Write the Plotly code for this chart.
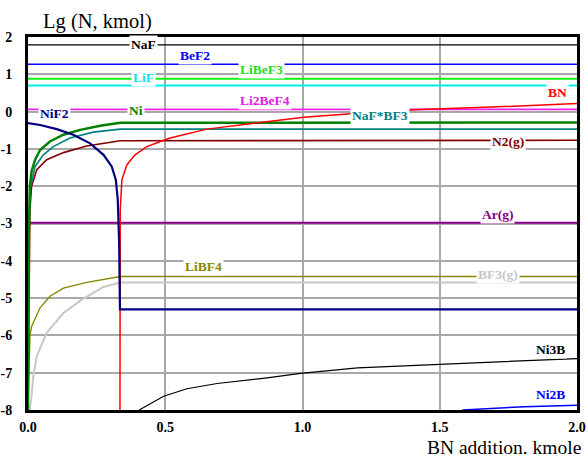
import plotly.graph_objects as go

# ---------------- data ----------------
X_END = 2.0

# constant species (Lg N)
naf = 1.79
bef2 = 1.27
libef3 = 0.88
lif = 0.70
li2bef4 = 0.06
ar_g = -2.98

# Ni (metal)
ni_x = [0.0, 0.002, 0.007, 0.013, 0.026, 0.044, 0.08, 0.129, 0.19, 0.263, 0.336, 2.0]
ni_y = [-8.0, -3.5, -2.0, -1.6, -1.29, -1.03, -0.80, -0.62, -0.49, -0.38, -0.30, -0.29]

# NaF*BF3
nafbf3_x = [0.0, 0.002, 0.007, 0.026, 0.056, 0.092, 0.153, 0.238, 0.336, 2.0]
nafbf3_y = [-8.0, -3.8, -2.1, -1.47, -1.16, -0.94, -0.71, -0.55, -0.47, -0.47]

# N2(g)
n2_x = [0.0, 0.003, 0.007, 0.013, 0.032, 0.068, 0.129, 0.214, 0.336, 2.0]
n2_y = [-8.0, -4.5, -2.63, -2.0, -1.56, -1.29, -1.10, -0.92, -0.78, -0.77]

# NiF2
nif2_x = [0.0, 0.044, 0.105, 0.165, 0.226, 0.275, 0.305, 0.32, 0.327, 0.332, 0.335, 2.0]
nif2_y = [-0.31, -0.36, -0.47, -0.62, -0.85, -1.16, -1.47, -1.83, -2.36, -3.5, -5.30, -5.30]

# BN
bn_x = [0.335, 0.336, 0.342, 0.36, 0.39, 0.433, 0.482, 0.518, 0.652, 0.859, 1.005, 1.175, 1.406, 1.686, 2.0]
bn_y = [-8.0, -2.63, -1.83, -1.43, -1.16, -0.94, -0.80, -0.71, -0.47, -0.28, -0.15, -0.06, 0.05, 0.12, 0.22]

# LiBF4
libf4_x = [0.0, 0.002, 0.004, 0.007, 0.013, 0.044, 0.08, 0.129, 0.214, 0.336, 2.0]
libf4_y = [-8.0, -7.6, -6.8, -6.02, -5.76, -5.26, -4.95, -4.73, -4.58, -4.42, -4.42]

# BF3(g)
bf3_x = [0.006, 0.013, 0.019, 0.032, 0.068, 0.129, 0.196, 0.275, 0.336, 2.0]
bf3_y = [-8.0, -7.63, -7.10, -6.56, -5.93, -5.40, -5.04, -4.70, -4.58, -4.58]

# Ni3B
ni3b_x = [0.405, 0.494, 0.579, 0.689, 0.871, 0.993, 1.2, 1.504, 1.808, 2.0]
ni3b_y = [-8.0, -7.63, -7.43, -7.29, -7.14, -7.02, -6.87, -6.78, -6.69, -6.62]

# Ni2B
ni2b_x = [1.583, 1.808, 2.0]
ni2b_y = [-8.0, -7.91, -7.87]

x_ticks = [0.0, 0.5, 1.0, 1.5, 2.0]
x_ticklabels = ["0.0", "0.5", "1.0", "1.5", "2.0"]
y_ticks = [-8, -7, -6, -5, -4, -3, -2, -1, 0, 1, 2]
y_ticklabels = [str(v) for v in y_ticks]

# ---------------- figure ----------------
SERIF = "Liberation Serif, Times New Roman, serif"
W, H = 588, 457
L, R, T, B = 28, 11, 37, 47
PW, PH = W - L - R, H - T - B

fig = go.Figure()

def line(x, y, color, width):
    fig.add_trace(go.Scatter(x=x, y=y, mode="lines", line=dict(color=color, width=width),
                             hoverinfo="skip", showlegend=False))

# constant lines
line([0, X_END], [naf, naf], "#000000", 1.3)
line([0, X_END], [bef2, bef2], "#0000ff", 1.5)
line([0, X_END], [libef3, libef3], "#10f010", 2)
line([0, X_END], [lif, lif], "#00f0f0", 2)
line([0, X_END], [li2bef4, li2bef4], "#f020f0", 1.8)
line([0, X_END], [ar_g, ar_g], "#880088", 1.8)

line(libf4_x, libf4_y, "#888800", 1.4)
line(bf3_x, bf3_y, "#c8c8c8", 2)
line(ni3b_x, ni3b_y, "#000000", 1.2)
line(ni2b_x, ni2b_y, "#0000ff", 1.5)
line(n2_x, n2_y, "#800000", 1.6)
line(nafbf3_x, nafbf3_y, "#008080", 1.6)
line(ni_x, ni_y, "#008000", 2.5)
line(bn_x, bn_y, "#ff0000", 1.5)
line(nif2_x, nif2_y, "#000080", 2.2)

# species labels (pixel centres converted to data coords)
def px2x(px):
    return (px - L) / PW * 2.0

def py2y(py):
    return 2.0 - (py - T) / PH * 10.0

labels = [
    ("NaF", 143, 44, "#000000"),
    ("BeF2", 195, 55, "#0000ee"),
    ("LiBeF3", 261, 69, "#22dd22"),
    ("LiF", 143, 77, "#11e0f0"),
    ("Li2BeF4", 265, 100, "#e020e0"),
    ("NiF2", 54, 113, "#000080"),
    ("Ni", 136, 110.5, "#008000"),
    ("BN", 557, 92.5, "#ff0000"),
    ("NaF*BF3", 380, 115, "#008080"),
    ("N2(g)", 508, 141, "#800000"),
    ("Ar(g)", 497, 214.5, "#880088"),
    ("BF3(g)", 498, 274.5, "#c8c8c8"),
    ("LiBF4", 203, 266, "#888800"),
    ("Ni3B", 550, 349.5, "#000000"),
    ("Ni2B", 550, 394.5, "#0000ff"),
]
for text, px, py, col in labels:
    fig.add_annotation(x=px2x(px), y=py2y(py), xref="x", yref="y", text="<b>%s</b>" % text,
                       showarrow=False, bgcolor="white", borderpad=1,
                       font=dict(family=SERIF, size=13.5, color=col),
                       xanchor="center", yanchor="middle")

# titles
fig.add_annotation(x=(41 - L) / PW, y=(H - B - 22) / PH, xref="paper", yref="paper",
                   text="Lg (N, kmol)", showarrow=False, xanchor="left", yanchor="middle",
                   font=dict(family=SERIF, size=20.5, color="#000000"))
fig.add_annotation(x=(425 - L) / PW, y=(H - B - 447) / PH, xref="paper", yref="paper",
                   text="BN addition. kmole", showarrow=False, xanchor="left", yanchor="middle",
                   font=dict(family=SERIF, size=19.5, color="#000000"))

fig.update_layout(
    width=W, height=H,
    margin=dict(l=L, r=R, t=T, b=B, pad=0, autoexpand=False),
    paper_bgcolor="white", plot_bgcolor="white",
    showlegend=False,
    font=dict(family=SERIF, size=13, color="#000000"),
)
fig.update_xaxes(range=[0, 2], tickvals=x_ticks, ticktext=["<b>%s</b>" % t for t in x_ticklabels],
                 showgrid=True, gridcolor="#a8a8a8", gridwidth=1.5, automargin=False,
                 showline=True, linecolor="#000000", linewidth=3, mirror=True,
                 zeroline=False, ticks="", ticklabelstandoff=2,
                 tickfont=dict(family=SERIF, size=14, color="#000000"))
fig.update_yaxes(range=[-8, 2], tickvals=y_ticks, ticktext=["<b>%s</b>" % t for t in y_ticklabels],
                 showgrid=True, gridcolor="#a8a8a8", gridwidth=1.5, automargin=False,
                 showline=True, linecolor="#000000", linewidth=3, mirror=True,
                 zeroline=False, ticks="", ticklabelstandoff=10,
                 tickfont=dict(family=SERIF, size=14, color="#000000"))

fig.write_html("out.html", post_script="document.body.style.margin='0px';",
               config={"displayModeBar": False})
